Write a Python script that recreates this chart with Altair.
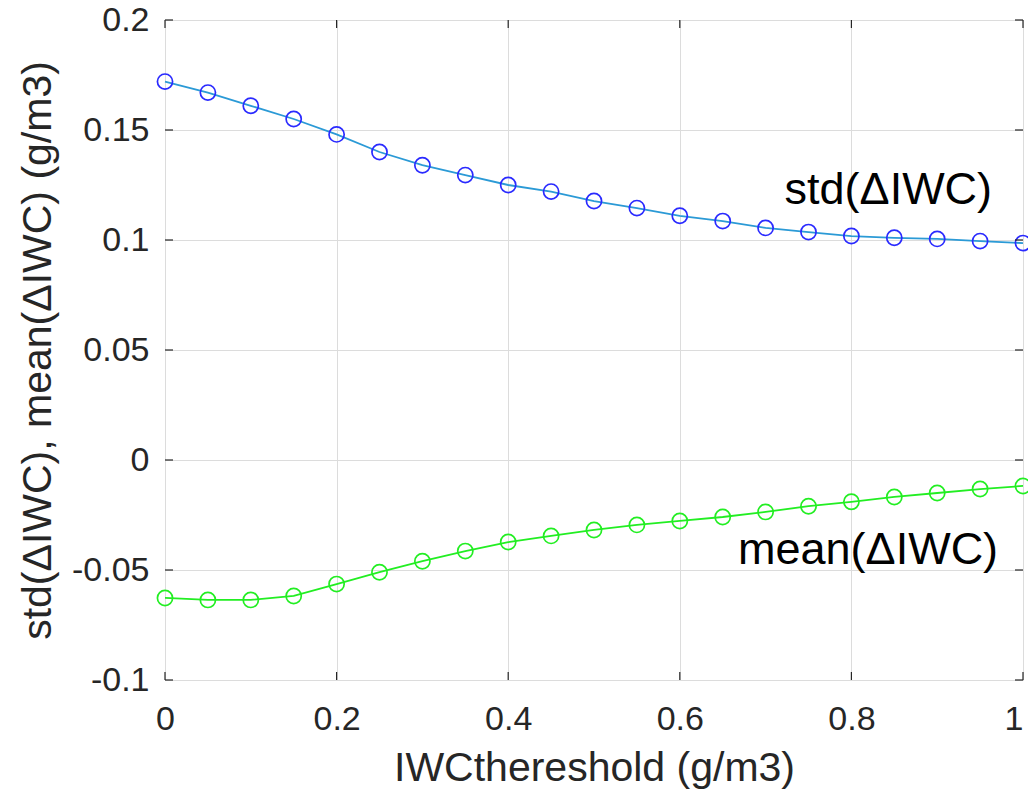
import altair as alt
import pandas as pd

x_vals = [0, 0.05, 0.1, 0.15, 0.2, 0.25, 0.3, 0.35, 0.4, 0.45, 0.5,
          0.55, 0.6, 0.65, 0.7, 0.75, 0.8, 0.85, 0.9, 0.95, 1.0]
std_vals = [0.172, 0.167, 0.161, 0.155, 0.148, 0.140, 0.134, 0.1295, 0.125, 0.122, 0.1177,
            0.1145, 0.111, 0.1086, 0.1055, 0.1036, 0.1018, 0.101, 0.1005, 0.0995, 0.0986]
mean_vals = [-0.0627, -0.0636, -0.0636, -0.0618, -0.0564, -0.051, -0.046, -0.0414, -0.0373, -0.0345,
             -0.0318, -0.0295, -0.0277, -0.0259, -0.0236, -0.021, -0.019, -0.0168, -0.015, -0.0132, -0.0118]
y_ticks = [-0.1, -0.05, 0, 0.05, 0.1, 0.15, 0.2]
x_ticks = [0, 0.2, 0.4, 0.6, 0.8, 1.0]
labels = ["std(\u0394IWC)", "mean(\u0394IWC)"]
label_x = [0.964, 0.971]
label_y = [0.1227, -0.041]

W, H = 858, 660
FONT = "Liberation Sans"
TXT = "#262626"

df_std = pd.DataFrame({"x": x_vals, "y": std_vals})
df_mean = pd.DataFrame({"x": x_vals, "y": mean_vals})
df_lab = pd.DataFrame({"x": label_x, "y": label_y, "t": labels})
df_yt = pd.DataFrame({"v": y_ticks})
df_xt = pd.DataFrame({"v": x_ticks})

xscale = alt.Scale(domain=[0, 1], nice=False)
yscale = alt.Scale(domain=[-0.1, 0.2], nice=False)

xaxis = alt.Axis(values=x_ticks, format="~g", grid=True, gridColor="#dcdcdc", gridWidth=1,
                 domain=False, ticks=False, labelFontSize=34, labelFont=FONT, labelColor=TXT,
                 labelPadding=22,
                 labelAlign={"condition": {"test": "datum.value == 1", "value": "right"}, "value": "center"},
                 title="IWCthereshold (g/m3)", titleFont=FONT, titleFontSize=41,
                 titleFontWeight="normal", titleColor=TXT, titlePadding=12, labelFlush=False)
yaxis = alt.Axis(values=y_ticks, format="~g", grid=True, gridColor="#dcdcdc", gridWidth=1,
                 domain=False, ticks=False, labelFontSize=34, labelFont=FONT, labelColor=TXT,
                 labelPadding=16, labelExpr="replace(datum.label, '\u2212', '-')",
                 title="std(\u0394IWC), mean(\u0394IWC) (g/m3)", titleFont=FONT, titleFontSize=41,
                 titleFontWeight="normal", titleColor=TXT, titlePadding=12, labelFlush=False)

base_x = alt.X("x:Q", scale=xscale, axis=xaxis)
base_y = alt.Y("y:Q", scale=yscale, axis=yaxis)

std_line = alt.Chart(df_std).mark_line(color="#2b9ad6", strokeWidth=1.8).encode(x=base_x, y=base_y)
std_pts = alt.Chart(df_std).mark_point(shape="circle", size=230, color="#2a2aff", strokeWidth=1.7,
                                       filled=False, opacity=1).encode(x="x:Q", y="y:Q")
mean_line = alt.Chart(df_mean).mark_line(color="#22ee22", strokeWidth=1.8).encode(x="x:Q", y="y:Q")
mean_pts = alt.Chart(df_mean).mark_point(shape="circle", size=230, color="#22ee22", strokeWidth=1.7,
                                         filled=False, opacity=1).encode(x="x:Q", y="y:Q")

texts = alt.Chart(df_lab).mark_text(align="right", baseline="middle", font=FONT, fontSize=45,
                                    color="#000000").encode(x="x:Q", y="y:Q", text="t:N")

yt_left = alt.Chart(df_yt).mark_rule(color=TXT, strokeWidth=1.2).encode(
    y="v:Q", x=alt.value(0), x2=alt.value(8))
yt_right = alt.Chart(df_yt).mark_rule(color=TXT, strokeWidth=1.2).encode(
    y="v:Q", x=alt.value(W - 8), x2=alt.value(W))
xt_bottom = alt.Chart(df_xt).mark_rule(color=TXT, strokeWidth=1.2).encode(
    x="v:Q", y=alt.value(H - 8), y2=alt.value(H))
xt_top = alt.Chart(df_xt).mark_rule(color=TXT, strokeWidth=1.2).encode(
    x="v:Q", y=alt.value(0), y2=alt.value(8))

chart = alt.layer(
    std_line, mean_line, std_pts, mean_pts, texts, yt_left, yt_right, xt_bottom, xt_top
).resolve_scale(x="shared", y="shared").properties(
    width=W, height=H,
    autosize=alt.AutoSizeParams(type="none"),
    padding={"left": 165, "top": 20, "right": 5, "bottom": 120},
).configure_view(
    stroke=TXT, strokeWidth=1.5
).configure(background="white")

chart.save("out.html", embed_options={"renderer": "svg", "actions": False})
